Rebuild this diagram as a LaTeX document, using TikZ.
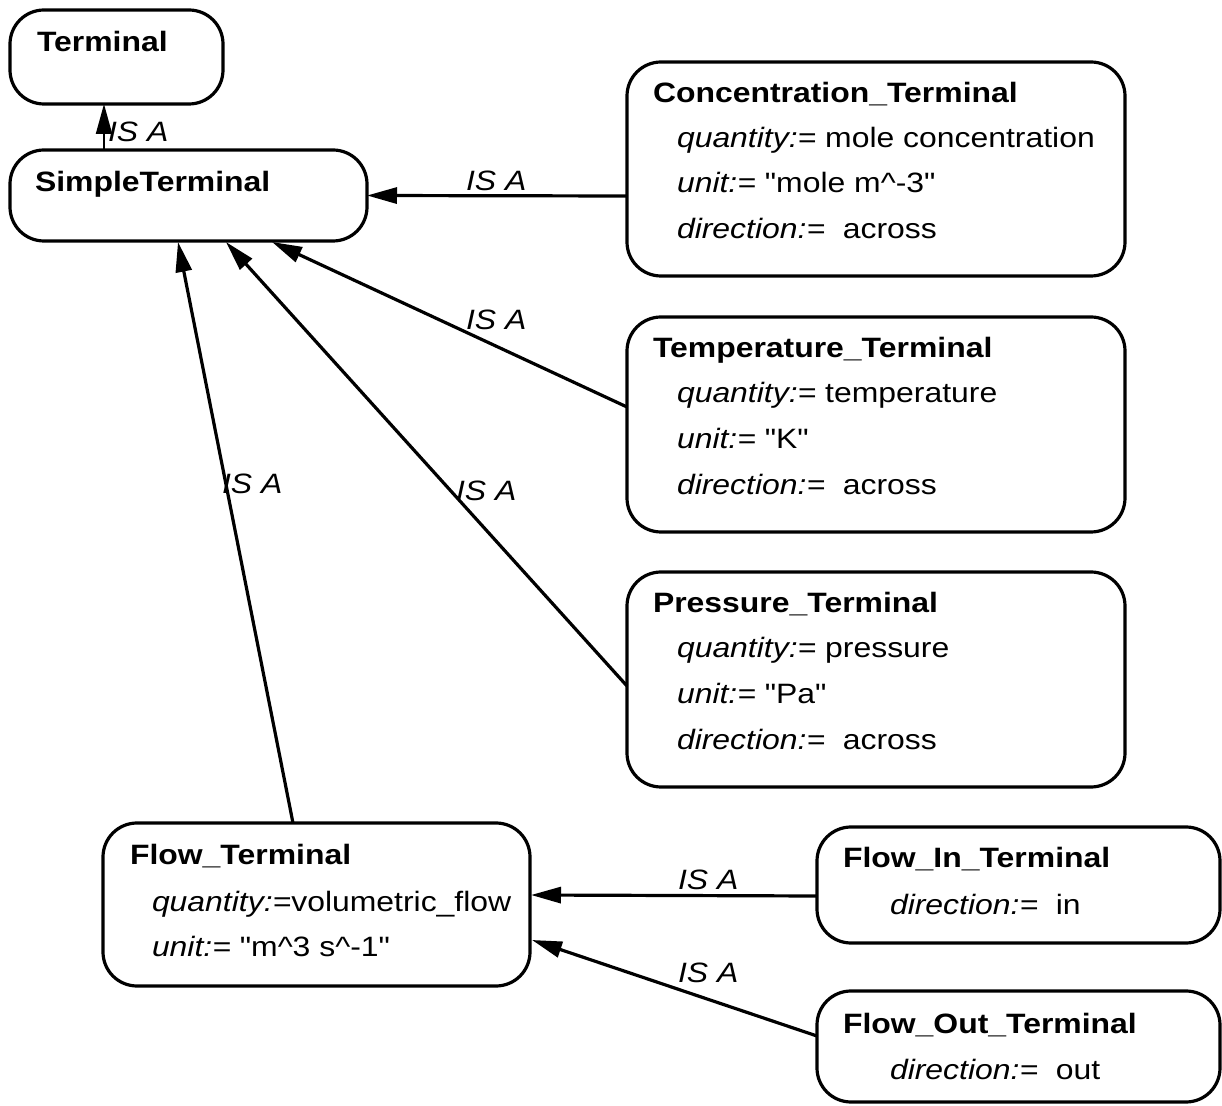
\documentclass[tikz,border=0pt]{standalone}
\usepackage{fontspec}
\setmainfont{Liberation Sans}[FakeStretch=1.14]
% same face without the TeX input mapping, for straight double quotes
\newfontfamily\straightfont{Liberation Sans}[FakeStretch=1.14]
\usetikzlibrary{arrows.meta,calc}

\tikzset{
  box/.style={draw, line width=1.6pt, rounded corners=17pt, inner sep=0pt, outer sep=0pt},
  txt/.style={inner sep=0pt, outer sep=0pt, anchor=base west, font=\fontsize{14pt}{17pt}\selectfont},
  ttl/.style={txt, font=\fontsize{14pt}{17pt}\selectfont\bfseries},
  isa/.style={txt, font=\fontsize{14pt}{17pt}\selectfont\itshape},
  gen/.style={line width=1.6pt, -{Triangle[length=15pt,width=8pt]}},
  genthin/.style={line width=1pt, -{Triangle[length=15pt,width=8pt]}}
}
\newcommand{\attr}[2]{\textit{#1:=}~#2}
\newcommand{\qt}{{\straightfont"}}

\begin{document}
\begin{tikzpicture}[x=0.5pt, y=-0.5pt]
  \useasboundingbox (0,0) rectangle (1222,1106);

  % class boxes
  \node[box, minimum width=106.5pt, minimum height=47pt]   (term)   at (116.5,57)   {};
  \node[box, minimum width=178.5pt, minimum height=45.5pt] (simple) at (188.5,195.5) {};
  \node[box, minimum width=249pt, minimum height=107pt]    (conc)   at (876,169)    {};
  \node[box, minimum width=249pt, minimum height=107.5pt]  (temp)   at (876,424.5)  {};
  \node[box, minimum width=249pt, minimum height=107.5pt]  (pres)   at (876,679.5)  {};
  \node[box, minimum width=213.5pt, minimum height=81.5pt] (flow)   at (316.5,904.5) {};
  \node[box, minimum width=201.5pt, minimum height=58pt]   (fin)    at (1018.5,885) {};
  \node[box, minimum width=201.5pt, minimum height=55.5pt] (fout)   at (1018.5,1046.5) {};

  % class names and attributes
  \node[ttl] (term-t)   at (37,52)   {Terminal};
  \node[ttl] (simple-t) at (35,192)  {SimpleTerminal};

  \node[ttl] (conc-t) at (653,103) {Concentration\_Terminal};
  \node[txt] (conc-a) at (677,148) {\attr{quantity}{mole concentration}};
  \node[txt] (conc-b) at (677,193) {\attr{unit}{\qt mole m\^{}-3\qt}};
  \node[txt] (conc-c) at (677,239) {\attr{direction}{~across}};

  \node[ttl] (temp-t) at (653,358) {Temperature\_Terminal};
  \node[txt] (temp-a) at (677,403) {\attr{quantity}{temperature}};
  \node[txt] (temp-b) at (677,449) {\attr{unit}{\qt K\qt}};
  \node[txt] (temp-c) at (677,495) {\attr{direction}{~across}};

  \node[ttl] (pres-t) at (653,613) {Pressure\_Terminal};
  \node[txt] (pres-a) at (677,658) {\attr{quantity}{pressure}};
  \node[txt] (pres-b) at (677,704) {\attr{unit}{\qt Pa\qt}};
  \node[txt] (pres-c) at (677,750) {\attr{direction}{~across}};

  \node[ttl] (flow-t) at (130,865) {Flow\_Terminal};
  \node[txt] (flow-a) at (152,912) {\textit{quantity:=}volumetric\_flow};
  \node[txt] (flow-b) at (152,957) {\attr{unit}{\qt m\^{}3 s\^{}-1\qt}};

  \node[ttl] (fin-t) at (843,868) {Flow\_In\_Terminal};
  \node[txt] (fin-a) at (890,914) {\attr{direction}{~in}};

  \node[ttl] (fout-t) at (843,1033) {Flow\_Out\_Terminal};
  \node[txt] (fout-a) at (890,1079) {\attr{direction}{~out}};

  % generalisation links
  \draw[genthin] ($(simple.north west)+(94,0)$) -- ($(term.south west)+(94,0)$);
  \draw[gen] ($(conc.west)+(0,27)$) -- (simple.east);
  \draw[gen] ($(temp.north west)+(0,90)$) -- ($(simple.south west)+(262,1)$);
  \draw[gen] ($(pres.north west)+(0,114)$) -- ($(simple.south west)+(216,1)$);
  \draw[gen] ($(flow.north west)+(190,0)$) -- ($(simple.south west)+(168,1)$);
  \draw[gen] ($(fin.north west)+(0,69)$) -- ($(flow.north east)+(1,72)$);
  \draw[gen] ($(fout.north west)+(0,45)$) -- ($(flow.north east)+(2,117)$);

  % link labels
  \node[isa] (isa-term)  at (108,142) {IS A};
  \node[isa] (isa-conc)  at (466,191) {IS A};
  \node[isa] (isa-temp)  at (466,330) {IS A};
  \node[isa] (isa-pres)  at (456,501) {IS A};
  \node[isa] (isa-flow)  at (222,494) {IS A};
  \node[isa] (isa-fin)   at (678,890) {IS A};
  \node[isa] (isa-fout)  at (678,982) {IS A};
\end{tikzpicture}
\end{document}
